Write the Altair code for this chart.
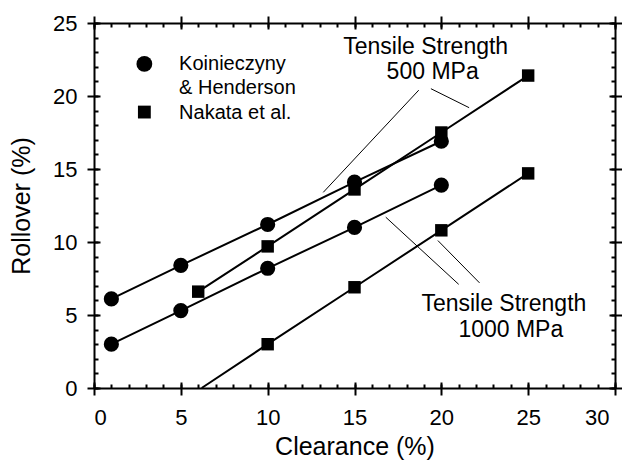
import altair as alt
import pandas as pd

# ---------------- data ----------------
kh_clearance = [1, 5, 10, 15, 20]
kh_500 = [6.1, 8.4, 11.2, 14.1, 16.9]
kh_1000 = [3.0, 5.3, 8.2, 11.0, 13.9]

nk500_clearance = [6, 10, 15, 20, 25]
nk_500 = [6.6, 9.7, 13.6, 17.5, 21.4]
nk1000_clearance = [10, 15, 20, 25]
nk_1000 = [3.0, 6.9, 10.8, 14.7]
nk1000_line_start_x = 6.2   # where the fitted line meets 0 %
nk1000_line_start_y = 0.0

leader_x = [13.2, 19.4, 16.8, 19.8]
leader_y = [13.4, 20.5, 11.7, 10.1]
leader_x2 = [18.7, 21.6, 21.0, 22.2]
leader_y2 = [20.4, 19.2, 7.1, 7.2]

note_text = ["Tensile Strength", "500 MPa", "Tensile Strength", "1000 MPa"]
note_x = [19.1, 19.5, 23.6, 24.0]
note_y = [22.9, 21.15, 5.25, 3.5]

legend_labels = ["Koinieczyny", "& Henderson", "Nakata et al."]
legend_text_x = [4.9, 4.9, 4.9]
legend_text_y = [21.75, 20.15, 18.45]
legend_marker_x = [2.9, 2.9]
legend_marker_y = [22.2, 18.9]
legend_marker_shape = ["circle", "square"]

x_major = [0, 5, 10, 15, 20, 25, 30]
y_major = [0, 5, 10, 15, 20, 25]
x_minor = list(range(0, 31))
y_minor = list(range(0, 26))

FONT = "Liberation Sans"

# ---------------- tables ----------------
rows = []
for xv, yv in zip(kh_clearance, kh_500):
    rows.append({"series": "kh500", "x": xv, "y": yv})
for xv, yv in zip(kh_clearance, kh_1000):
    rows.append({"series": "kh1000", "x": xv, "y": yv})
for xv, yv in zip(nk500_clearance, nk_500):
    rows.append({"series": "nk500", "x": xv, "y": yv})
rows.append({"series": "nk1000", "x": nk1000_line_start_x, "y": nk1000_line_start_y})
for xv, yv in zip(nk1000_clearance, nk_1000):
    rows.append({"series": "nk1000", "x": xv, "y": yv})
lines_df = pd.DataFrame(rows)

circ_df = pd.DataFrame({"x": kh_clearance + kh_clearance, "y": kh_500 + kh_1000})
sq_df = pd.DataFrame({"x": nk500_clearance + nk1000_clearance, "y": nk_500 + nk_1000})
leader_df = pd.DataFrame({"x": leader_x, "y": leader_y, "x2": leader_x2, "y2": leader_y2})
note_df = pd.DataFrame({"t": note_text, "x": note_x, "y": note_y})
leg_txt_df = pd.DataFrame({"t": legend_labels, "x": legend_text_x, "y": legend_text_y})
leg_mk_df = pd.DataFrame({"x": legend_marker_x, "y": legend_marker_y, "shape": legend_marker_shape})

xs = alt.Scale(domain=[0, 30], nice=False, zero=False)
ys = alt.Scale(domain=[0, 25], nice=False, zero=False)


def outer_axis(orient, values, labels=False, title=None):
    kw = dict(orient=orient, values=values, tickSize=7, tickWidth=2, tickColor="black",
              domain=True, domainWidth=2, domainColor="black", grid=False,
              labels=labels, title=title)
    if labels:
        kw.update(labelFont=FONT, labelFontSize=22, labelColor="black",
                  labelPadding=10 if orient == "left" else 12,
                  titleFont=FONT, titleFontSize=25, titleFontWeight="normal", titleColor="black",
                  titlePadding=18 if orient == "left" else 6)
        if orient == "bottom":
            kw.update(labelOffset=alt.condition("datum.value == 30", alt.value(-6), alt.value(0)))
    return alt.Axis(**kw)


def inner_axis(orient, values, size):
    return alt.Axis(orient=orient, values=values, tickSize=size, tickWidth=2, tickColor="black",
                    offset=-size, domain=False, grid=False, labels=False, title=None)


lines = alt.Chart(lines_df).mark_line(color="black", strokeWidth=2).encode(
    x=alt.X("x:Q", scale=xs, axis=outer_axis("bottom", x_major, True, "Clearance (%)")),
    y=alt.Y("y:Q", scale=ys, axis=outer_axis("left", y_major, True, "Rollover (%)")),
    detail="series:N",
)

circles = alt.Chart(circ_df).mark_point(shape="circle", filled=True, size=230, color="black", opacity=1).encode(
    x=alt.X("x:Q", scale=xs, axis=outer_axis("top", x_major)),
    y=alt.Y("y:Q", scale=ys, axis=outer_axis("right", y_major)),
)

squares = alt.Chart(sq_df).mark_point(shape="square", filled=True, size=155, color="black", opacity=1).encode(
    x=alt.X("x:Q", scale=xs, axis=inner_axis("bottom", x_major, 6)),
    y=alt.Y("y:Q", scale=ys, axis=inner_axis("left", y_major, 6)),
)

leaders = alt.Chart(leader_df).mark_rule(color="black", strokeWidth=1).encode(
    x=alt.X("x:Q", scale=xs, axis=inner_axis("bottom", x_minor, 4)),
    y=alt.Y("y:Q", scale=ys, axis=inner_axis("left", y_minor, 4)),
    x2="x2:Q",
    y2="y2:Q",
)

notes = alt.Chart(note_df).mark_text(font=FONT, fontSize=23, color="black", align="center",
                                     baseline="alphabetic").encode(
    x=alt.X("x:Q", scale=xs, axis=inner_axis("top", x_major, 6)),
    y=alt.Y("y:Q", scale=ys, axis=inner_axis("right", y_major, 6)),
    text="t:N",
)

leg_mk = alt.Chart(leg_mk_df).mark_point(filled=True, color="black", opacity=1).encode(
    x=alt.X("x:Q", scale=xs, axis=inner_axis("top", x_minor, 4)),
    y=alt.Y("y:Q", scale=ys, axis=inner_axis("right", y_minor, 4)),
    shape=alt.Shape("shape:N", scale=alt.Scale(domain=["circle", "square"], range=["circle", "square"]),
                    legend=None),
    size=alt.Size("shape:N", scale=alt.Scale(domain=["circle", "square"], range=[250, 165]), legend=None),
)

leg_txt = alt.Chart(leg_txt_df).mark_text(font=FONT, fontSize=20, color="black", align="left",
                                          baseline="alphabetic").encode(
    x=alt.X("x:Q", scale=xs, axis=None),
    y=alt.Y("y:Q", scale=ys, axis=None),
    text="t:N",
)

chart = alt.layer(lines, circles, squares, leaders, notes, leg_mk, leg_txt).resolve_axis(
    x="independent", y="independent"
).properties(
    width=521, height=365,
    autosize=alt.AutoSizeParams(type="none"),
    padding={"left": 86, "top": 15, "right": 7, "bottom": 72},
    background="white",
).configure_view(strokeWidth=0)

chart.save("out.html", embed_options={"renderer": "svg", "actions": False})
